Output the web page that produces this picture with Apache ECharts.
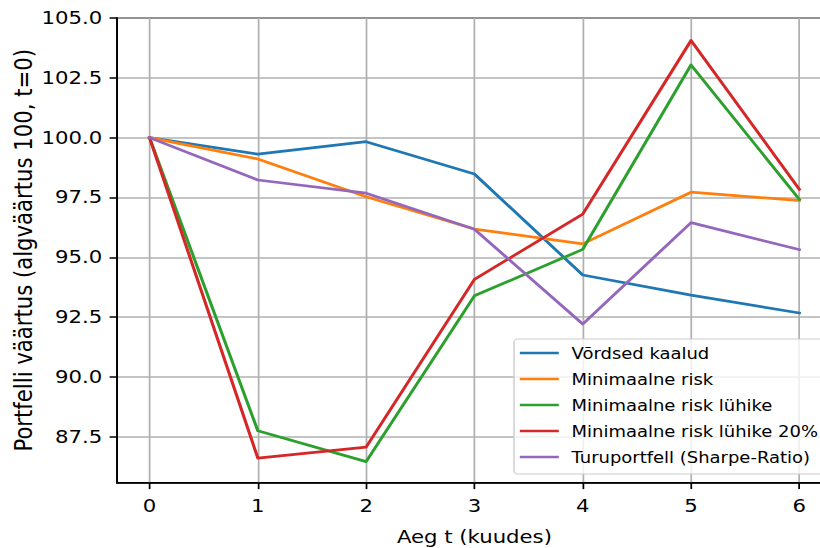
<!DOCTYPE html>
<html>
<head>
<meta charset="utf-8">
<script src="https://cdn.jsdelivr.net/npm/echarts@6/dist/echarts.min.js"></script>
<style>
  html, body { margin: 0; padding: 0; background: #fff; overflow: hidden; }
  #chart { width: 707px; height: 548px; transform: scaleX(1.15983); transform-origin: 0 0; }
</style>
</head>
<body>
<div id="chart"></div>
<script>
// Months since start (t) and portfolio values, start value 100
const months = [0, 1, 2, 3, 4, 5, 6];
const equalWeights   = [100, 99.31, 99.83, 98.48, 94.26, 93.42, 92.67];
const minRisk        = [100, 99.11, 97.53, 96.18, 95.56, 97.72, 97.37];
const minRiskShort   = [100, 87.75, 86.46, 93.39, 95.33, 103.04, 97.42];
const minRiskShort20 = [100, 86.61, 87.07, 94.08, 96.80, 104.06, 97.84];
const marketSharpe   = [100, 98.23, 97.68, 96.17, 92.21, 96.45, 95.32];

const seriesNames = [
  'Võrdsed kaalud',
  'Minimaalne risk',
  'Minimaalne risk lühike',
  'Minimaalne risk lühike 20%',
  'Turuportfell (Sharpe-Ratio)'
];
const seriesValues = [equalWeights, minRisk, minRiskShort, minRiskShort20, marketSharpe];
const colors = ['#1f77b4', '#ff7f0e', '#2ca02c', '#d62728', '#9467bd'];

const yTicks = [87.5, 90, 92.5, 95, 97.5, 100, 102.5, 105];
const xTicks = [0, 1, 2, 3, 4, 5, 6];

const FONT = 'DejaVu Sans';
const chart = echarts.init(document.getElementById('chart'), null, { renderer: 'svg' });

chart.setOption({
  animation: false,
  color: colors,
  grid: {
    left: 100.9, top: 18, width: 616.3, height: 464.7,
    show: true, borderColor: '#000', borderWidth: 1.5,
    outerBoundsMode: 'none', containLabel: false
  },
  legend: {
    orient: 'vertical',
    left: 443.2, top: 339,
    padding: [6, 9, 9, 5],
    backgroundColor: 'rgba(255,255,255,0.8)',
    borderColor: '#cccccc', borderWidth: 1.2, borderRadius: 3,
    icon: 'rect', itemWidth: 33.6, itemHeight: 2.7, itemGap: 10,
    itemStyle: { borderWidth: 0 },
    textStyle: { fontFamily: FONT, fontSize: 15.5, color: '#000', lineHeight: 16, padding: [0, 0, 0, 6] },
    data: seriesNames
  },
  xAxis: {
    type: 'value', min: -0.3, max: 6.3,
    name: 'Aeg t (kuudes)', nameLocation: 'middle', nameGap: 45, nameMoveOverlap: false,
    nameTextStyle: { fontFamily: FONT, fontSize: 18.3, color: '#000' },
    axisLine: { show: true, onZero: false, lineStyle: { color: '#000', width: 1.5 } },
    axisTick: { show: true, length: 6.4, lineStyle: { color: '#000', width: 1.5 }, customValues: xTicks },
    axisLabel: { fontFamily: FONT, fontSize: 18.3, color: '#000', margin: 14, customValues: xTicks },
    splitLine: { show: true, lineStyle: { color: '#b0b0b0', width: 1.5 } }
  },
  yAxis: {
    type: 'value', min: 85.58, max: 105,
    name: 'Portfelli väärtus (algväärtus 100, t=0)', nameLocation: 'middle', nameGap: 70, nameMoveOverlap: false,
    nameTextStyle: { fontFamily: FONT, fontSize: 21.2, color: '#000' },
    axisLine: { show: true, onZero: false, lineStyle: { color: '#000', width: 1.5 } },
    axisTick: { show: true, length: 6.4, lineStyle: { color: '#000', width: 1.5 }, customValues: yTicks },
    axisLabel: {
      fontFamily: FONT, fontSize: 18.3, color: '#000', margin: 12.8, customValues: yTicks,
      formatter: v => v.toFixed(1)
    },
    splitLine: { show: true, lineStyle: { color: '#b0b0b0', width: 1.5 } }
  },
  series: seriesNames.map((name, i) => ({
    name,
    type: 'line',
    data: months.map((m, j) => [m, seriesValues[i][j]]),
    showSymbol: false,
    symbol: 'none',
    lineStyle: { width: 2.7, color: colors[i], cap: 'square', join: 'round' },
    itemStyle: { color: colors[i] },
    clip: true
  }))
});
</script>
</body>
</html>
